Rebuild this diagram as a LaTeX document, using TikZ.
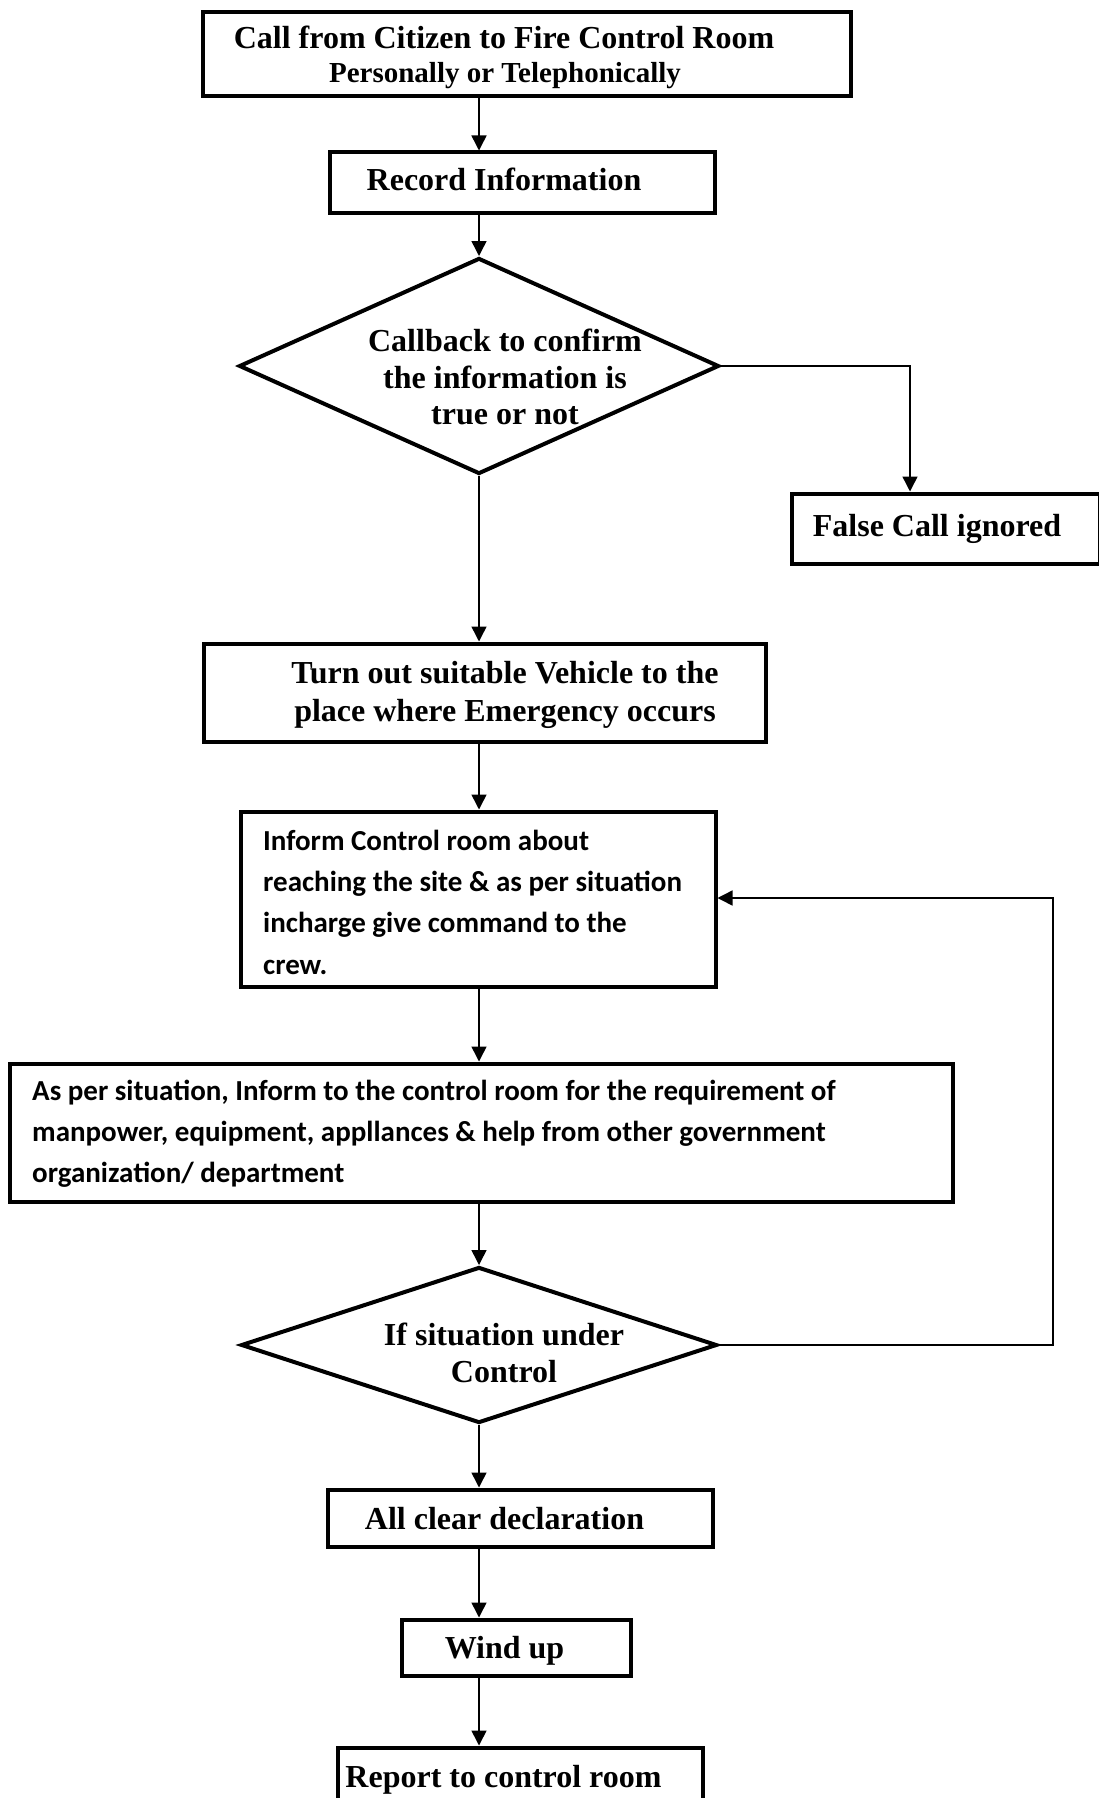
\documentclass[tikz,border=0pt]{standalone}
\usepackage{fontspec}
\setmainfont{Liberation Serif}
\newfontfamily\carlitofont{Carlito}
\usetikzlibrary{arrows.meta,shapes.geometric}
\begin{document}
\begin{tikzpicture}[x=1pt,y=-1pt,
  box/.style={draw, line width=4pt, rectangle, inner sep=0pt},
  dec/.style={draw, line width=4pt, diamond, inner sep=0pt},
  txt/.style={inner sep=0pt, anchor=base, font=\bfseries\fontsize{32}{36}\selectfont},
  smalltxt/.style={txt, font=\bfseries\fontsize{29}{34}\selectfont},
  caltxt/.style={inner sep=0pt, anchor=base west, font=\carlitofont\bfseries\fontsize{29}{41}\selectfont},
  arr/.style={line width=1.5pt, -{Triangle[width=15pt,length=15pt]}}
]
\useasboundingbox (0,0) rectangle (1099,1798);

% boxes
\node[box, minimum width=648, minimum height=84] (b1) at (527,54) {};
\node[txt] (b1a) at (504,49) {Call from Citizen to Fire Control Room};
\node[smalltxt] (b1b) at (505,83) {Personally or Telephonically};

\node[box, minimum width=385, minimum height=60] (b2) at (522,182.5) {};
\node[txt] (b2t) at (504,190) {Record Information};

\node[dec, minimum width=480, minimum height=216] (d1) at (479,366) {};
\node[txt] (d1a) at (505,351) {Callback to confirm};
\node[txt] (d1b) at (505,388) {the information is};
\node[txt] (d1c) at (505,424) {true or not};

\node[box, minimum width=308, minimum height=70] (fc) at (946,528.5) {};
\node[txt] (fct) at (937,536) {False Call ignored};

\node[box, minimum width=562, minimum height=98] (b3) at (484.5,692.5) {};
\node[txt] (b3a) at (505,683) {Turn out suitable Vehicle to the};
\node[txt] (b3b) at (505,721) {place where Emergency occurs};

\node[box, minimum width=475, minimum height=175] (b4) at (478,899) {};
\node[caltxt] (b4a) at (263,850) {Inform Control room about};
\node[caltxt] (b4b) at (263,891) {reaching the site \& as per situation};
\node[caltxt] (b4c) at (263,932) {incharge give command to the};
\node[caltxt] (b4d) at (263,974) {crew.};

\node[box, minimum width=943, minimum height=138] (b5) at (481,1132.5) {};
\node[caltxt] (b5a) at (32,1100) {As per situation, Inform to the control room for the requirement of};
\node[caltxt] (b5b) at (32,1141) {manpower, equipment, appllances \& help from other government};
\node[caltxt] (b5c) at (32,1182) {organization/ department};

\node[dec, minimum width=476, minimum height=156] (d2) at (479,1345) {};
\node[txt] (d2a) at (504,1345) {If situation under};
\node[txt] (d2b) at (504,1382) {Control};

\node[box, minimum width=385, minimum height=57] (b6) at (520,1518) {};
\node[txt] (b6t) at (504.5,1529) {All clear declaration};

\node[box, minimum width=229, minimum height=56] (b7) at (516,1647.5) {};
\node[txt] (b7t) at (504.5,1658) {Wind up};

\node[box, minimum width=365, minimum height=80] (b8) at (520,1787.5) {};
\node[txt] (b8t) at (503.5,1787) {Report to control room};

% connectors
\draw[arr] (b1.south -| d1.north) -- (b2.north -| d1.north);
\draw[arr] (b2.south -| d1.north) -- (d1.north);
\draw[arr] (d1.south) -- (b3.north -| d1.south);
\draw[arr] (b3.south -| d1.north) -- (b4.north -| d1.north);
\draw[arr] (b4.south -| d1.north) -- (b5.north -| d1.north);
\draw[arr] (b5.south -| d2.north) -- (d2.north);
\draw[arr] (d2.south) -- (b6.north -| d2.south);
\draw[arr] (b6.south -| d2.north) -- (b7.north -| d2.north);
\draw[arr] (b7.south -| d2.north) -- (b8.north -| d2.north);

\coordinate (fj) at (910,366);
\draw[arr] (d1.east) -- (fj) -- (fj |- fc.north);

\coordinate (la) at (1053,1345);
\coordinate (lb) at (1053,898);
\draw[arr] (d2.east) -- (la) -- (lb) -- (lb -| b4.east);
\end{tikzpicture}
\end{document}
